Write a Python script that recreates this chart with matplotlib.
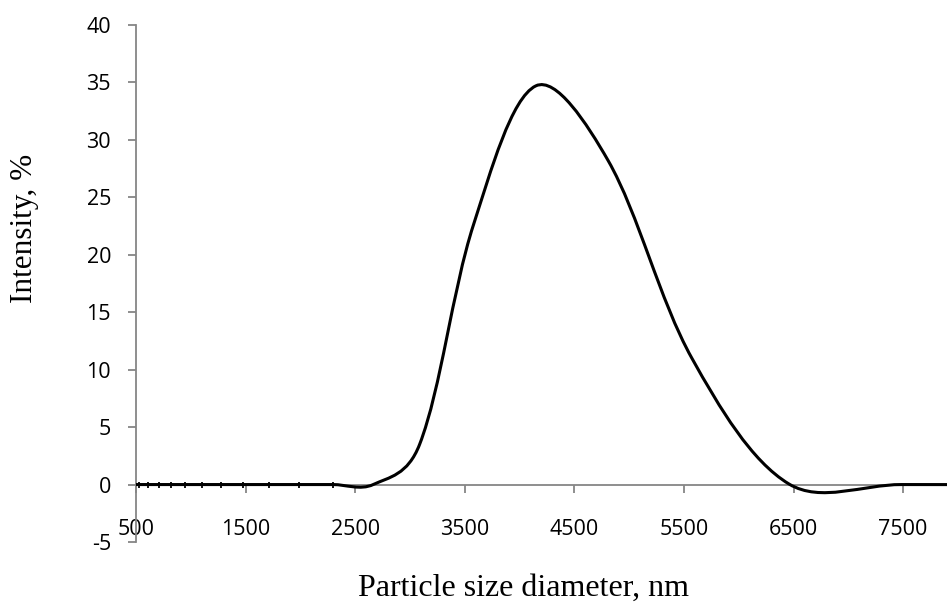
import numpy as np
import matplotlib
matplotlib.use('Agg')
import matplotlib.pyplot as plt
from matplotlib.path import Path
from matplotlib.patches import PathPatch

# particle size bins (nm) and measured intensity (%)
sizes = [455, 527, 609, 706, 818, 948, 1099, 1274, 1476, 1711, 1983, 2299,
         2664, 3088, 3579, 4148, 4808, 5572, 6458, 7485, 8675]
intensity = [0, 0, 0, 0, 0, 0, 0, 0, 0, 0, 0, 0,
             0, 3.5, 22.6, 34.7, 28.2, 11.0, 0.05, 0, 0]

x_ticks = [500, 1500, 2500, 3500, 4500, 5500, 6500, 7500]
y_ticks = [-5, 0, 5, 10, 15, 20, 25, 30, 35, 40]

AXIS_GREY = '#868686'

plt.rcParams['axes.unicode_minus'] = False


def smooth_path(ax, xs, ys):
    """Excel-like smoothed line: cubic Bezier through every point,
    tangent lengths partly weighted by on-screen chord lengths."""
    pts = ax.transData.transform(np.column_stack([xs, ys]).astype(float))
    n = len(pts)
    d = np.hypot(*np.diff(pts, axis=0).T)

    def handle(tang, d_this, d_other):
        uniform = tang / 6.0
        chord = tang * d_this / (d_this + d_other) / 3.0
        return 0.5 * (uniform + chord)

    verts = [pts[0]]
    codes = [Path.MOVETO]
    for i in range(n - 1):
        if i > 0:
            t0 = handle(pts[i + 1] - pts[i - 1], d[i], d[i - 1])
        else:
            t0 = (pts[i + 1] - pts[i]) / 3.0
        if i + 2 < n:
            t1 = handle(pts[i + 2] - pts[i], d[i], d[i + 1])
        else:
            t1 = (pts[i + 1] - pts[i]) / 3.0
        verts += [pts[i] + t0, pts[i + 1] - t1, pts[i + 1]]
        codes += [Path.CURVE4] * 3
    verts = ax.transData.inverted().transform(np.array(verts))
    return Path(verts, codes)


fig = plt.figure(figsize=(9.47, 6.03), dpi=100)
ax = fig.add_axes([136 / 947, 61 / 603, 811 / 947, 517 / 603])
ax.set_xlim(500, 7900)
ax.set_ylim(-5, 40)

patch = PathPatch(smooth_path(ax, sizes, intensity), fill=False, edgecolor='black',
                  linewidth=2.2, capstyle='round', joinstyle='round', zorder=3)
ax.add_patch(patch)

# point markers visible on the flat part of the curve
flat = [i for i, v in enumerate(intensity) if v == 0 and sizes[i] < 2400]
ax.plot([sizes[i] for i in flat], [intensity[i] for i in flat], linestyle='none',
        marker='|', markersize=5, markeredgewidth=1.3, color='black', zorder=4)

for side in ['top', 'right']:
    ax.spines[side].set_visible(False)
ax.spines['bottom'].set_position(('data', 0))
ax.spines['left'].set_position(('data', 500))
for side in ['bottom', 'left']:
    ax.spines[side].set_color(AXIS_GREY)
    ax.spines[side].set_linewidth(1.3)

ax.set_xticks(x_ticks)
ax.set_yticks(y_ticks)
ax.set_xticklabels([str(t) for t in x_ticks])
ax.set_yticklabels([str(t) for t in y_ticks])
ax.tick_params(axis='both', direction='out', length=6, width=1.3, color=AXIS_GREY,
               labelsize=15.5, labelcolor='black')
ax.tick_params(axis='x', pad=19)
ax.tick_params(axis='y', pad=12)
for lab in ax.get_xticklabels() + ax.get_yticklabels():
    lab.set_fontfamily('Open Sans')

fig.text(523 / 947, 7 / 603, 'Particle size diameter, nm', ha='center', va='baseline',
         fontsize=23, family='Liberation Serif')
fig.text(25 / 947, 1 - 228 / 603, 'Intensity, %', ha='center', va='center',
         rotation=90, fontsize=22.5, family='Liberation Serif')

fig.savefig('out.png', dpi=100, facecolor='white')
